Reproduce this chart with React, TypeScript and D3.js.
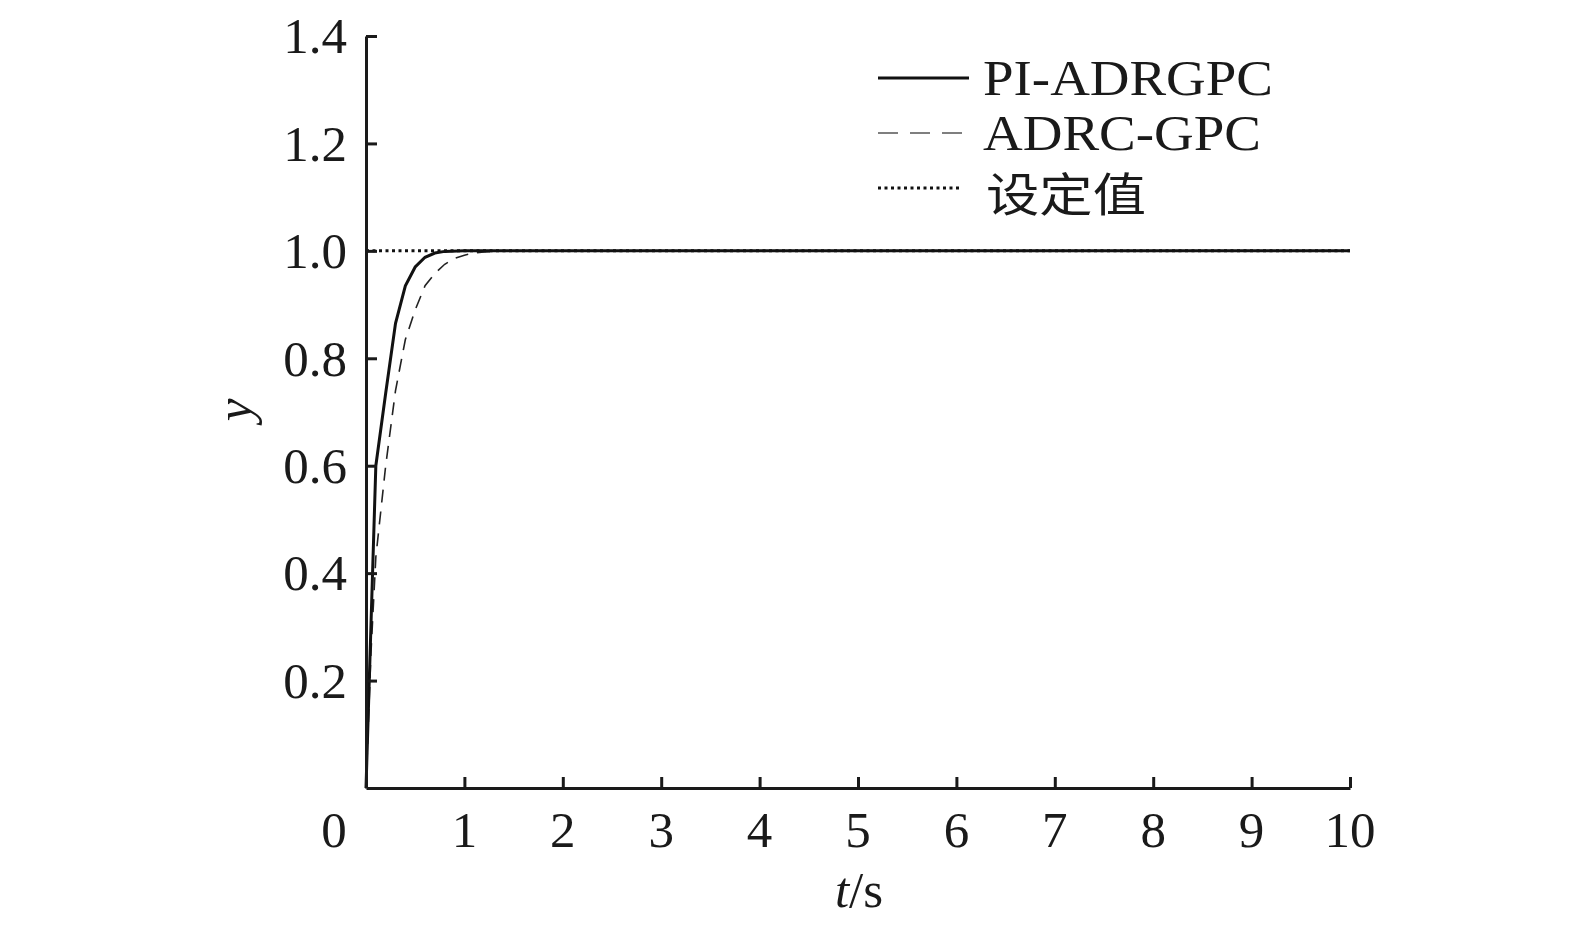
import React, { useEffect, useRef } from 'react';
import * as d3 from 'd3';

const W = 1575;
const H = 930;

// time samples (s) and responses
const tPi = [0, 0.1, 0.2, 0.3, 0.4, 0.5, 0.6, 0.7, 0.8, 1.0, 2, 4, 6, 8, 10];
const yPi = [0, 0.6, 0.735, 0.865, 0.935, 0.97, 0.988, 0.996, 0.999, 1.0, 1.0, 1.0, 1.0, 1.0, 1.0];

const tAdrc = [0, 0.05, 0.1, 0.2, 0.3, 0.4, 0.5, 0.6, 0.7, 0.8, 0.9, 1.0, 1.1, 1.2, 1.4, 2, 4, 6, 8, 10];
const yAdrc = [0, 0.25, 0.43, 0.6, 0.74, 0.835, 0.89, 0.935, 0.958, 0.975, 0.986, 0.992, 0.996, 0.998, 1.0, 1.0, 1.0, 1.0, 1.0, 1.0];

const setpoint = 1.0;

const xTicks = [1, 2, 3, 4, 5, 6, 7, 8, 9, 10];
const yTicks = [0.2, 0.4, 0.6, 0.8, 1.0, 1.2, 1.4];

const legendNames = ['PI-ADRGPC', 'ADRC-GPC', '设定值'];

const SERIF = '"Liberation Serif", "Times New Roman", serif';
const CJK = '"Noto Sans CJK SC", sans-serif';

export default function App() {
  const ref = useRef<SVGSVGElement>(null);

  useEffect(() => {
    const svg = d3.select(ref.current);
    svg.selectAll('*').remove();

    const x = d3.scaleLinear().domain([0, 10]).range([366, 1350]);
    const y = d3.scaleLinear().domain([0, 1.4]).range([788, 36]);

    const line = d3.line<[number, number]>()
      .x(d => x(d[0]))
      .y(d => y(d[1]));

    // setpoint
    svg.append('path')
      .attr('d', line([[0, setpoint], [10, setpoint]]))
      .attr('fill', 'none')
      .attr('stroke', '#111')
      .attr('stroke-width', 3)
      .attr('stroke-dasharray', '3,3.5');

    // ADRC-GPC
    svg.append('path')
      .attr('d', line(tAdrc.map((t, i) => [t, yAdrc[i]] as [number, number])))
      .attr('fill', 'none')
      .attr('stroke', '#222')
      .attr('stroke-width', 1.6)
      .attr('stroke-dasharray', '13,9');

    // PI-ADRGPC
    svg.append('path')
      .attr('d', line(tPi.map((t, i) => [t, yPi[i]] as [number, number])))
      .attr('fill', 'none')
      .attr('stroke', '#111')
      .attr('stroke-width', 3);

    // axes, ticks pointing inward
    const xAxis = svg.append('g')
      .attr('transform', `translate(0,${y(0)})`)
      .call(d3.axisTop(x).tickValues(xTicks).tickSize(11).tickFormat(() => '').tickSizeOuter(0));
    xAxis.select('.domain').attr('stroke', '#1a1a1a').attr('stroke-width', 3);
    xAxis.selectAll('.tick line').attr('stroke', '#1a1a1a').attr('stroke-width', 3);

    const yAxis = svg.append('g')
      .attr('transform', `translate(${x(0)},0)`)
      .call(d3.axisRight(y).tickValues(yTicks).tickSize(11).tickFormat(() => '').tickSizeOuter(0));
    yAxis.select('.domain').attr('stroke', '#1a1a1a').attr('stroke-width', 3);
    yAxis.selectAll('.tick line').attr('stroke', '#1a1a1a').attr('stroke-width', 3);

    // tick labels
    svg.append('g').selectAll('text')
      .data(xTicks)
      .enter()
      .append('text')
      .attr('x', d => x(d))
      .attr('y', 847)
      .attr('text-anchor', 'middle')
      .attr('font-family', SERIF)
      .attr('font-size', 51)
      .attr('fill', '#1a1a1a')
      .text(d => d);

    svg.append('text')
      .attr('x', 334)
      .attr('y', 847)
      .attr('text-anchor', 'middle')
      .attr('font-family', SERIF)
      .attr('font-size', 51)
      .attr('fill', '#1a1a1a')
      .text('0');

    svg.append('g').selectAll('text')
      .data(yTicks)
      .enter()
      .append('text')
      .attr('x', 347)
      .attr('y', d => y(d))
      .attr('dy', '0.34em')
      .attr('text-anchor', 'end')
      .attr('font-family', SERIF)
      .attr('font-size', 51)
      .attr('fill', '#1a1a1a')
      .text(d => d.toFixed(1));

    // axis titles
    const xt = svg.append('text')
      .attr('x', 859)
      .attr('y', 907)
      .attr('text-anchor', 'middle')
      .attr('font-family', SERIF)
      .attr('font-size', 51)
      .attr('fill', '#1a1a1a');
    xt.append('tspan').attr('font-style', 'italic').text('t');
    xt.append('tspan').text('/s');

    svg.append('text')
      .attr('transform', 'translate(251,410) rotate(-90)')
      .attr('text-anchor', 'middle')
      .attr('font-family', SERIF)
      .attr('font-style', 'italic')
      .attr('font-size', 51)
      .attr('fill', '#1a1a1a')
      .text('y');

    // legend
    const styles = [
      { w: 3, dash: null, color: '#111', x2: 969, len: 290 },
      { w: 1.6, dash: '20,12', color: '#555', x2: 969, len: 278 },
      { w: 3, dash: '3,3.5', color: '#111', x2: 962, len: 0 },
    ];
    const rows = [78, 133, 188];
    const lg = svg.append('g');
    legendNames.forEach((name, i) => {
      const cy = rows[i];
      const s = styles[i];
      const l = lg.append('line')
        .attr('x1', 878)
        .attr('x2', s.x2)
        .attr('y1', cy)
        .attr('y2', cy)
        .attr('stroke', s.color)
        .attr('stroke-width', s.w);
      if (s.dash) l.attr('stroke-dasharray', s.dash);
      const tx = lg.append('text')
        .attr('x', i === 2 ? 986 : 983)
        .attr('y', i === 2 ? 211 : cy + 17)
        .attr('font-family', i === 2 ? CJK : SERIF)
        .attr('font-size', i === 2 ? 46 : 50)
        .attr('fill', '#1a1a1a')
        .text(name);
      if (s.len) tx.attr('textLength', s.len).attr('lengthAdjust', 'spacingAndGlyphs');
      else tx.attr('textLength', 160).attr('lengthAdjust', 'spacingAndGlyphs');
    });
  }, []);

  return (
    <svg
      ref={ref}
      width={W}
      height={H}
      style={{ position: 'absolute', left: 0, top: 0, background: '#fff' }}
    />
  );
}
